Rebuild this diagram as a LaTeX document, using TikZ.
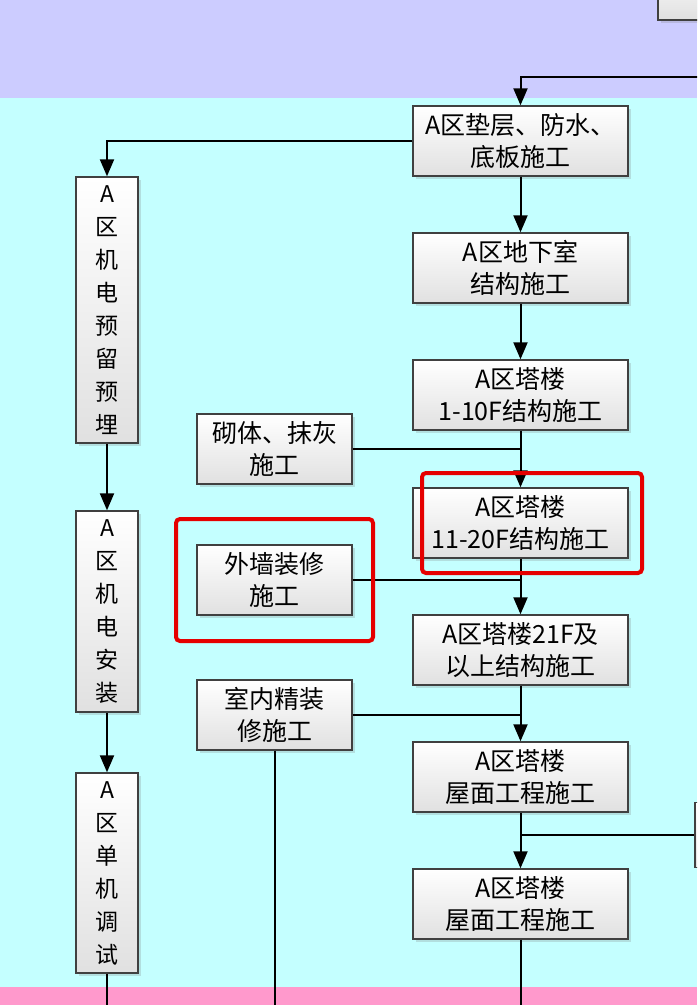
\documentclass[tikz,border=0pt]{standalone}
\usepackage{fontspec}
\newfontfamily\cjk{Noto Sans CJK SC}
\usetikzlibrary{arrows.meta,shadows}
\definecolor{bandtop}{HTML}{CCCCFF}
\definecolor{bandmid}{HTML}{C4FFFF}
\definecolor{bandbot}{HTML}{FF99CC}
\begin{document}
\begin{tikzpicture}[x=1pt,y=-1pt,
  task/.style={draw=black!75,line width=1.4pt,top color=white,bottom color=black!12,
    drop shadow={shadow xshift=3pt,shadow yshift=-3pt,opacity=0.25},
    font=\cjk\fontsize{25}{32}\selectfont,align=center,inner sep=0pt,
    minimum width=215pt,minimum height=70pt},
  side/.style={task,minimum width=155pt},
  vtask/.style={task,minimum width=62pt,font=\cjk\fontsize{23}{33}\selectfont},
  link/.style={line width=2pt,black},
  arr/.style={link,-{Triangle[length=17pt,width=14pt]}},
  redframe/.style={draw=red!90!black,line width=4pt,rounded corners=4pt}]
  \useasboundingbox (0,0) rectangle (697,1005);
  \clip (0,0) rectangle (697,1005);
  % bands
  \fill[bandtop] (0,0) rectangle (697,98);
  \fill[bandmid] (0,98) rectangle (697,987);
  \fill[bandbot] (0,987) rectangle (697,1005);
  % main column
  \node[task,minimum width=84pt,minimum height=60pt] (top) at (700,-10) {};
  \coordinate (inR) at (700,77);
  \node[task] (b1) at (520.5,141) {A区垫层、防水、\\底板施工};
  \node[task] (b2) at (520.5,268) {A区地下室\\结构施工};
  \node[task] (b3) at (520.5,395) {A区塔楼\\1-10F结构施工};
  \node[task] (b4) at (520.5,523) {A区塔楼\\11-20F结构施工};
  \node[task] (b5) at (520.5,650) {A区塔楼21F及\\以上结构施工};
  \node[task] (b6) at (520.5,777) {A区塔楼\\屋面工程施工};
  \node[task] (b7) at (520.5,904) {A区塔楼\\屋面工程施工};
  \node[task,minimum width=80pt,minimum height=65pt] (rB) at (735,835) {};
  % side column
  \node[side] (s1) at (274.5,449) {砌体、抹灰\\施工};
  \node[side] (s2) at (274.5,580) {外墙装修\\施工};
  \node[side] (s3) at (274.5,715) {室内精装\\修施工};
  % left column
  \node[vtask,minimum height=266pt] (l1) at (107,310) {A\\区\\机\\电\\预\\留\\预\\埋};
  \node[vtask,minimum height=201pt] (l2) at (107,611.5) {A\\区\\机\\电\\安\\装};
  \node[vtask,minimum height=200pt] (l3) at (107,873) {A\\区\\单\\机\\调\\试};
  \coordinate (endL) at (107,1010);
  \coordinate (endS) at (274.5,1010);
  \coordinate (endM) at (520.5,1010);
  % connectors
  \draw[arr] (inR) -| (b1.north);
  \draw[arr] (b1.west) -| (l1.north);
  \draw[arr] (b1) -- (b2);
  \draw[arr] (b2) -- (b3);
  \draw[arr] (b3) -- (b4);
  \draw[arr] (b4) -- (b5);
  \draw[arr] (b5) -- (b6);
  \draw[arr] (b6) -- (b7);
  \draw[link] (b7.south) -- (endM);
  \draw[link] (s1.east) -- (s1.east -| b3.south);
  \draw[link] (s2.east) -- (s2.east -| b4.south);
  \draw[link] (s3.east) -- (s3.east -| b5.south);
  \draw[link] (s3.south) -- (endS);
  \draw[link] (b6.south |- rB.west) -- (rB.west);
  \draw[arr] (l1) -- (l2);
  \draw[arr] (l2) -- (l3);
  \draw[link] (l3.south) -- (endL);
  % highlight frames
  \draw[redframe] (422,473) rectangle (642,573);
  \draw[redframe] (176,519) rectangle (373,641);
\end{tikzpicture}
\end{document}
